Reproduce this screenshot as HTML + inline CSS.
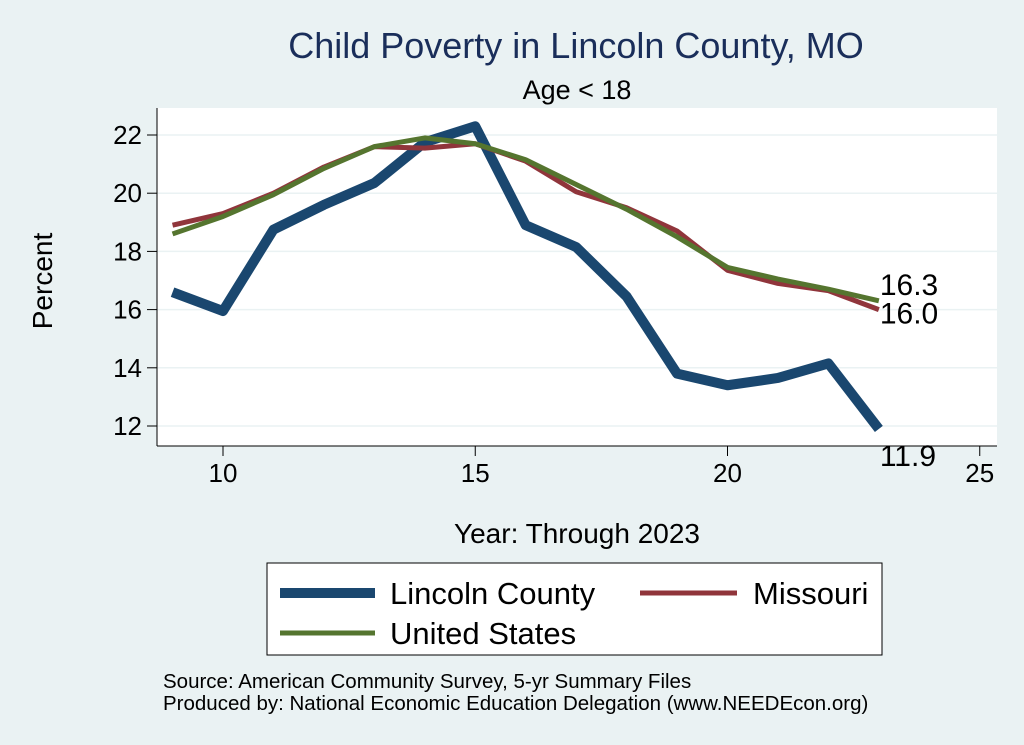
<!DOCTYPE html>
<html><head><meta charset="utf-8"><style>
body{margin:0;background:#eaf2f3;}
svg{display:block;font-family:"Liberation Sans",sans-serif;}
</style></head><body>
<svg id="c" width="1024" height="745">
<rect x="0" y="0" width="1024" height="745" fill="#eaf2f3"/>
<rect x="157" y="108" width="840" height="338" fill="#fff"/>
<text x="576" y="58" font-size="36" fill="#1a2e5a" text-anchor="middle">Child Poverty in Lincoln County, MO</text>
<text x="577" y="99" font-size="27" fill="#000" text-anchor="middle">Age &lt; 18</text>
<text x="52" y="281" font-size="28" text-anchor="middle" transform="rotate(-90 52 281)">Percent</text>
<text x="577" y="543" font-size="28" text-anchor="middle">Year: Through 2023</text>
<g id="grid"></g><g id="axes"></g><g id="lines"></g>
<rect x="267" y="563" width="615" height="92" fill="#fff" stroke="#000" stroke-width="1"/>
<g><line x1="280" y1="593" x2="375" y2="593" stroke="#1a476f" stroke-width="10"/><text x="390" y="604" font-size="31">Lincoln County</text></g>
<g><line x1="640" y1="593" x2="737" y2="593" stroke="#90353b" stroke-width="5"/><text x="753" y="604" font-size="31">Missouri</text></g>
<g><line x1="280" y1="633" x2="375" y2="633" stroke="#55752f" stroke-width="5"/><text x="390" y="644" font-size="31">United States</text></g>
<text x="163" y="688" font-size="20.5">Source: American Community Survey, 5-yr Summary Files</text>
<text x="163" y="710" font-size="20.5">Produced by: National Economic Education Delegation (www.NEEDEcon.org)</text>
</svg>
<script>
const years=[9,10,11,12,13,14,15,16,17,18,19,20,21,22,23];
const lincoln=[16.6,15.95,18.75,19.6,20.35,21.75,22.3,18.9,18.15,16.45,13.8,13.4,13.65,14.15,11.9];
const missouri=[18.9,19.3,20.0,20.9,21.6,21.55,21.7,21.1,20.05,19.5,18.7,17.35,16.9,16.65,16.0];
const us=[18.6,19.2,19.95,20.85,21.6,21.9,21.7,21.15,20.3,19.45,18.5,17.45,17.05,16.7,16.3];
const xTicks=[10,15,20,25];
const yTicks=[12,14,16,18,20,22];
const X=v=>223+(v-10)*50.45;
const Y=v=>426-(v-12)*29.1;
const NS="http://www.w3.org/2000/svg";
function mk(p,t,a){const e=document.createElementNS(NS,t);for(const k in a)e.setAttribute(k,a[k]);p.appendChild(e);return e;}
const grid=document.getElementById('grid'),axes=document.getElementById('axes'),lines=document.getElementById('lines');
yTicks.forEach(v=>{
 const g=mk(grid,'line',{x1:157,x2:997,y1:Y(v),y2:Y(v),stroke:'#eaf2f3','stroke-width':1.5});
 
 
 mk(axes,'line',{x1:147,x2:157,y1:Y(v),y2:Y(v),stroke:'#000'});
 const t=mk(axes,'text',{x:142,y:Y(v)+9,'font-size':26,'text-anchor':'end'});t.textContent=v;
 
 
});
xTicks.forEach(v=>{
 mk(axes,'line',{x1:X(v),x2:X(v),y1:446,y2:456,stroke:'#000'});
 const t=mk(axes,'text',{x:X(v),y:482,'font-size':26,'text-anchor':'middle'});t.textContent=v;
 
 
});
mk(axes,'line',{x1:157,x2:157,y1:108,y2:446,stroke:'#000'});
mk(axes,'line',{x1:157,x2:997,y1:446,y2:446,stroke:'#000'});
function series(d,c,w,name){
 const p=mk(lines,'polyline',{points:years.map((y,i)=>X(y)+','+Y(d[i])).join(' '),fill:'none',stroke:c,'stroke-width':w,'stroke-linejoin':'round'});
 
 
}
series(lincoln,'#1a476f',10,'line-lincoln-county');
series(missouri,'#90353b',5,'line-missouri');
series(us,'#55752f',5,'line-united-states');
const last=years.length-1;
[[us[last],-6,'label-us-last'],[missouri[last],14,'label-missouri-last'],[lincoln[last],37,'label-lincoln-last']].forEach(([v,dy,n])=>{
 const t=mk(lines,'text',{x:X(years[last])+1,y:Y(v)+dy,'font-size':30});t.textContent=v.toFixed(1);
 
 
});
</script>
</body></html>
